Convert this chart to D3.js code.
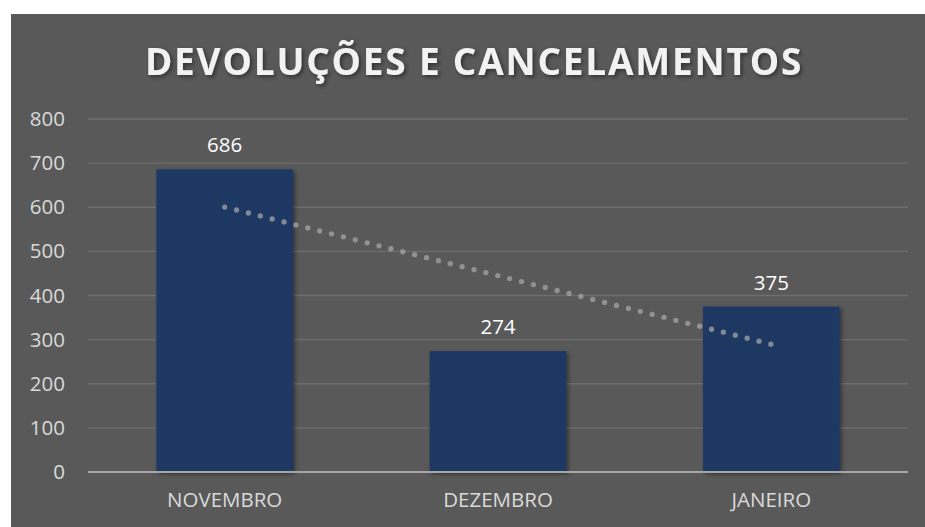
<!DOCTYPE html>
<html>
<head>
<meta charset="utf-8">
<script src="https://cdn.jsdelivr.net/npm/d3@7"></script>
<style>
  body { margin: 0; background: #ffffff; }
  svg { display: block; }
</style>
</head>
<body>
<svg id="chart"></svg>
<script>
const categories = ['NOVEMBRO', 'DEZEMBRO', 'JANEIRO']
const values = [686, 274, 375]
const yTicks = [0, 100, 200, 300, 400, 500, 600, 700, 800]
const chartTitle = 'DEVOLUÇÕES E CANCELAMENTOS'

const width = 925, height = 527
const svg = d3.select('#chart').attr('width', width).attr('height', height)

// panel background
svg.append('rect')
  .attr('x', 11).attr('y', 14)
  .attr('width', width - 11).attr('height', height - 14)
  .attr('fill', '#595959')

const defs = svg.append('defs')
const shadow = defs.append('filter').attr('id', 'shadow')
  .attr('x', '-20%').attr('y', '-20%').attr('width', '140%').attr('height', '140%')
shadow.append('feDropShadow')
  .attr('dx', 2).attr('dy', 2).attr('stdDeviation', 2)
  .attr('flood-color', '#000').attr('flood-opacity', 0.45)

const margin = { left: 88, right: 17, top: 119, bottom: 55 }
const x = d3.scaleBand()
  .domain(categories)
  .range([margin.left, width - margin.right])
  .paddingInner(0.5).paddingOuter(0.25)
const y = d3.scaleLinear()
  .domain([0, 800])
  .range([height - margin.bottom, margin.top])

// title
svg.append('text')
  .attr('x', 474).attr('y', 75)
  .attr('text-anchor', 'middle')
  .attr('font-family', 'Open Sans, sans-serif')
  .attr('font-weight', 'bold')
  .attr('font-size', 37)
  .attr('letter-spacing', 1.8)
  .attr('fill', '#f2f2f2')
  .attr('filter', 'url(#shadow)')
  .text(chartTitle)

// gridlines
svg.append('g')
  .selectAll('line')
  .data(yTicks.filter(d => d > 0))
  .join('line')
  .attr('x1', margin.left).attr('x2', width - margin.right)
  .attr('y1', d => y(d)).attr('y2', d => y(d))
  .attr('stroke', '#6e6e6e').attr('stroke-width', 1.3)

// y axis labels
const yAxis = svg.append('g')
  .attr('transform', `translate(${margin.left}, 0)`)
  .call(d3.axisLeft(y).tickValues(yTicks).tickSize(0).tickPadding(23))
yAxis.select('.domain').remove()
yAxis.selectAll('text')
  .attr('font-family', 'Open Sans, sans-serif')
  .attr('font-size', 20.5)
  .attr('fill', '#d9d9d9')

// bars
svg.append('g')
  .selectAll('rect')
  .data(values)
  .join('rect')
  .attr('x', (d, i) => x(categories[i]))
  .attr('y', d => y(d))
  .attr('width', x.bandwidth())
  .attr('height', d => y(0) - y(d))
  .attr('fill', '#1f3864')
  .attr('filter', 'url(#shadow)')

// baseline
svg.append('line')
  .attr('x1', margin.left).attr('x2', width - margin.right)
  .attr('y1', y(0)).attr('y2', y(0))
  .attr('stroke', '#a6a6a6').attr('stroke-width', 2)

// x axis labels
const xAxis = svg.append('g')
  .attr('transform', `translate(0, ${y(0)})`)
  .call(d3.axisBottom(x).tickSize(0).tickPadding(20))
xAxis.select('.domain').remove()
xAxis.selectAll('text')
  .attr('font-family', 'Open Sans, sans-serif')
  .attr('font-size', 20.5)
  .attr('fill', '#d9d9d9')

// linear trendline (least squares over category index)
const n = values.length
const xs = values.map((d, i) => i + 1)
const mx = d3.mean(xs), my = d3.mean(values)
const slope = d3.sum(xs, (v, i) => (v - mx) * (values[i] - my)) / d3.sum(xs, v => (v - mx) ** 2)
const icpt = my - slope * mx
const trend = xs.map((v, i) => [x(categories[i]) + x.bandwidth() / 2, y(icpt + slope * v)])
const p0 = trend[0], p1 = trend[n - 1]
const len = Math.hypot(p1[0] - p0[0], p1[1] - p0[1])
const gap = len / Math.round(len / 12.3) - 0.01 // tiny slack so the last dot is kept
svg.append('path')
  .attr('d', d3.line()([p0, p1]))
  .attr('fill', 'none')
  .attr('stroke', '#a6a6a6')
  .attr('stroke-opacity', 0.75)
  .attr('stroke-width', 5.3)
  .attr('stroke-linecap', 'round')
  .attr('stroke-dasharray', `0 ${gap}`)

// data labels
svg.append('g')
  .selectAll('text')
  .data(values)
  .join('text')
  .attr('x', (d, i) => x(categories[i]) + x.bandwidth() / 2)
  .attr('y', d => y(d) - 17)
  .attr('text-anchor', 'middle')
  .attr('font-family', 'Open Sans, sans-serif')
  .attr('font-size', 20.5)
  .attr('fill', '#ffffff')
  .text(d => d)
</script>
</body>
</html>
